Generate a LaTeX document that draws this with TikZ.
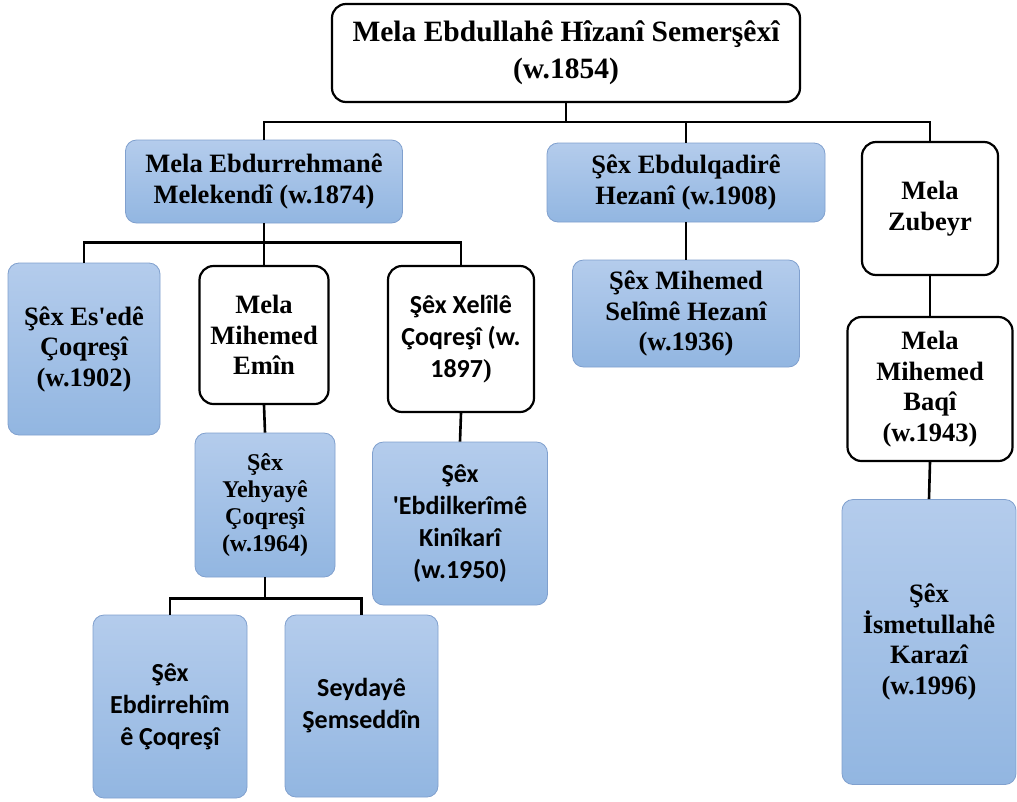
\documentclass[tikz,border=0pt]{standalone}
\usepackage{fontspec}
\setmainfont{Liberation Serif}
\newfontfamily\calibri{Carlito}
\definecolor{boxTop}{RGB}{180,204,236}
\definecolor{boxBottom}{RGB}{146,182,225}
\definecolor{boxEdge}{RGB}{128,160,206}
\begin{document}
\begin{tikzpicture}[
    % styles
    x=1pt,y=-1pt,
    link/.style={draw=black,line width=2.6pt},
    person/.style={rectangle,align=center,inner sep=2pt,
        font=\bfseries\fontsize{26.5}{30.5}\selectfont},
    blue person/.style={person,rounded corners=11pt,top color=boxTop,
        bottom color=boxBottom,draw=boxEdge,line width=0.8pt},
    white person/.style={person,rounded corners=14pt,fill=white,
        draw=black,line width=2.2pt},
    sans/.style={font=\calibri\bfseries\fontsize{26}{32}\selectfont}
]
    \useasboundingbox[fill=white] (0,0) rectangle (1017,801);

    % --- top ---
    \node[white person,minimum width=468,minimum height=98,
        font=\bfseries\fontsize{29.5}{37}\selectfont] (root) at (566,53)
        {Mela Ebdullahê Hîzanî Semerşêxî\\(w.1854)};

    % --- first row ---
    \node[blue person,minimum width=277,minimum height=83] (melek) at (264,181.5)
        {Mela Ebdurrehmanê\\Melekendî (w.1874)};
    \node[blue person,minimum width=278,minimum height=79] (qadir) at (686,182.5)
        {Şêx Ebdulqadirê\\Hezanî (w.1908)};
    \node[white person,minimum width=136,minimum height=133] (zubeyr) at (930,208.5)
        {Mela\\Zubeyr};

    % --- second row ---
    \node[blue person,minimum width=152,minimum height=172] (esed) at (84,349)
        {Şêx Es\textquotesingle edê\\Çoqreşî\\(w.1902)};
    \node[white person,minimum width=129,minimum height=138] (emin) at (264,335)
        {Mela\\Mihemed\\Emîn};
    \node[white person,sans,minimum width=146,minimum height=146] (xelil) at (461,339)
        {Şêx Xelîlê\\Çoqreşî (w.\\1897{\rmfamily)}};
    \node[blue person,minimum width=227,minimum height=107] (selim) at (686,313.5)
        {Şêx Mihemed\\Selîmê Hezanî\\(w.1936)};
    \node[white person,minimum width=165,minimum height=144] (baqi) at (930,389)
        {Mela\\Mihemed\\Baqî\\(w.1943)};

    % --- third row ---
    \node[blue person,minimum width=140,minimum height=144,
        font=\bfseries\fontsize{24}{27}\selectfont] (yehya) at (265,505)
        {Şêx\\Yehyayê\\Çoqreşî\\(w.1964)};
    \node[blue person,sans,minimum width=175,minimum height=163] (kerim) at (460,523.5)
        {Şêx\\\textquotesingle Ebdilkerîmê\\Kinîkarî\\(w.1950)};
    \node[blue person,minimum width=174,minimum height=285] (karazi) at (929,642)
        {Şêx\\İsmetullahê\\Karazî\\(w.1996)};

    % --- fourth row ---
    \node[blue person,sans,minimum width=154,minimum height=183] (rehim) at (170,706.5)
        {Şêx\\Ebdirrehîm\\ê Çoqreşî};
    \node[blue person,sans,minimum width=153,minimum height=182] (seyda) at (361.5,706)
        {Seydayê\\Şemseddîn};

    % --- connectors ---
    \foreach \child in {melek,qadir,zubeyr}
        \draw[link] (root.south) -- ++(0,19) -| (\child.north);
    \foreach \child in {esed,emin,xelil}
        \draw[link] (melek.south) -- ++(0,19) -| (\child.north);
    \foreach \child in {rehim,seyda}
        \draw[link] (yehya.south) -- ++(0,21) -| (\child.north);
    \draw[link] (emin.south) -- (yehya.north);
    \draw[link] (xelil.south) -- (kerim.north);
    \draw[link] (qadir.south) -- (selim.north);
    \draw[link] (zubeyr.south) -- (baqi.north);
    \draw[link] (baqi.south) -- (karazi.north);

\end{tikzpicture}
\end{document}
